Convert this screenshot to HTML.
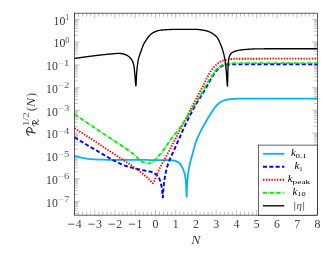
<!DOCTYPE html>
<html><head><meta charset="utf-8"><title>plot</title>
<style>html,body{margin:0;padding:0;background:#fff;font-family:"Liberation Serif",serif;}svg{display:block}</style>
</head><body><svg width="335" height="259" viewBox="0 0 335 259" style="display:block"><rect x="0" y="0" width="335" height="259" fill="#fff"/><defs><filter id="b" x="0" y="0" width="335" height="259" filterUnits="userSpaceOnUse"><feGaussianBlur stdDeviation="0.35"/></filter></defs><g filter="url(#b)"><defs><clipPath id="c"><rect x="74.5" y="13.15" width="242.89999999999998" height="202.0"/></clipPath></defs><path d="M74.50,215.15v-5.35M74.50,13.15v5.35M78.55,215.15v-3.57M78.55,13.15v3.57M82.60,215.15v-3.57M82.60,13.15v3.57M86.64,215.15v-3.57M86.64,13.15v3.57M90.69,215.15v-3.57M90.69,13.15v3.57M94.74,215.15v-5.35M94.74,13.15v5.35M98.79,215.15v-3.57M98.79,13.15v3.57M102.84,215.15v-3.57M102.84,13.15v3.57M106.89,215.15v-3.57M106.89,13.15v3.57M110.94,215.15v-3.57M110.94,13.15v3.57M114.98,215.15v-5.35M114.98,13.15v5.35M119.03,215.15v-3.57M119.03,13.15v3.57M123.08,215.15v-3.57M123.08,13.15v3.57M127.13,215.15v-3.57M127.13,13.15v3.57M131.18,215.15v-3.57M131.18,13.15v3.57M135.22,215.15v-5.35M135.22,13.15v5.35M139.27,215.15v-3.57M139.27,13.15v3.57M143.32,215.15v-3.57M143.32,13.15v3.57M147.37,215.15v-3.57M147.37,13.15v3.57M151.42,215.15v-3.57M151.42,13.15v3.57M155.47,215.15v-5.35M155.47,13.15v5.35M159.51,215.15v-3.57M159.51,13.15v3.57M163.56,215.15v-3.57M163.56,13.15v3.57M167.61,215.15v-3.57M167.61,13.15v3.57M171.66,215.15v-3.57M171.66,13.15v3.57M175.71,215.15v-5.35M175.71,13.15v5.35M179.76,215.15v-3.57M179.76,13.15v3.57M183.81,215.15v-3.57M183.81,13.15v3.57M187.85,215.15v-3.57M187.85,13.15v3.57M191.90,215.15v-3.57M191.90,13.15v3.57M195.95,215.15v-5.35M195.95,13.15v5.35M200.00,215.15v-3.57M200.00,13.15v3.57M204.05,215.15v-3.57M204.05,13.15v3.57M208.09,215.15v-3.57M208.09,13.15v3.57M212.14,215.15v-3.57M212.14,13.15v3.57M216.19,215.15v-5.35M216.19,13.15v5.35M220.24,215.15v-3.57M220.24,13.15v3.57M224.29,215.15v-3.57M224.29,13.15v3.57M228.34,215.15v-3.57M228.34,13.15v3.57M232.38,215.15v-3.57M232.38,13.15v3.57M236.43,215.15v-5.35M236.43,13.15v5.35M240.48,215.15v-3.57M240.48,13.15v3.57M244.53,215.15v-3.57M244.53,13.15v3.57M248.58,215.15v-3.57M248.58,13.15v3.57M252.63,215.15v-3.57M252.63,13.15v3.57M256.67,215.15v-5.35M256.67,13.15v5.35M260.72,215.15v-3.57M260.72,13.15v3.57M264.77,215.15v-3.57M264.77,13.15v3.57M268.82,215.15v-3.57M268.82,13.15v3.57M272.87,215.15v-3.57M272.87,13.15v3.57M276.92,215.15v-5.35M276.92,13.15v5.35M280.97,215.15v-3.57M280.97,13.15v3.57M285.01,215.15v-3.57M285.01,13.15v3.57M289.06,215.15v-3.57M289.06,13.15v3.57M293.11,215.15v-3.57M293.11,13.15v3.57M297.16,215.15v-5.35M297.16,13.15v5.35M301.21,215.15v-3.57M301.21,13.15v3.57M305.25,215.15v-3.57M305.25,13.15v3.57M309.30,215.15v-3.57M309.30,13.15v3.57M313.35,215.15v-3.57M313.35,13.15v3.57M317.40,215.15v-5.35M317.40,13.15v5.35M74.5,213.30h3.57M317.4,213.30h-3.57M74.5,210.45h3.57M317.4,210.45h-3.57M74.5,208.25h3.57M317.4,208.25h-3.57M74.5,206.45h3.57M317.4,206.45h-3.57M74.5,204.92h3.57M317.4,204.92h-3.57M74.5,203.60h3.57M317.4,203.60h-3.57M74.5,202.44h3.57M317.4,202.44h-3.57M74.5,201.40h5.35M317.4,201.40h-5.35M74.5,194.55h3.57M317.4,194.55h-3.57M74.5,190.55h3.57M317.4,190.55h-3.57M74.5,187.70h3.57M317.4,187.70h-3.57M74.5,185.50h3.57M317.4,185.50h-3.57M74.5,183.70h3.57M317.4,183.70h-3.57M74.5,182.17h3.57M317.4,182.17h-3.57M74.5,180.85h3.57M317.4,180.85h-3.57M74.5,179.69h3.57M317.4,179.69h-3.57M74.5,178.65h5.35M317.4,178.65h-5.35M74.5,171.80h3.57M317.4,171.80h-3.57M74.5,167.80h3.57M317.4,167.80h-3.57M74.5,164.95h3.57M317.4,164.95h-3.57M74.5,162.75h3.57M317.4,162.75h-3.57M74.5,160.95h3.57M317.4,160.95h-3.57M74.5,159.42h3.57M317.4,159.42h-3.57M74.5,158.10h3.57M317.4,158.10h-3.57M74.5,156.94h3.57M317.4,156.94h-3.57M74.5,155.90h5.35M317.4,155.90h-5.35M74.5,149.05h3.57M317.4,149.05h-3.57M74.5,145.05h3.57M317.4,145.05h-3.57M74.5,142.20h3.57M317.4,142.20h-3.57M74.5,140.00h3.57M317.4,140.00h-3.57M74.5,138.20h3.57M317.4,138.20h-3.57M74.5,136.67h3.57M317.4,136.67h-3.57M74.5,135.35h3.57M317.4,135.35h-3.57M74.5,134.19h3.57M317.4,134.19h-3.57M74.5,133.15h5.35M317.4,133.15h-5.35M74.5,126.30h3.57M317.4,126.30h-3.57M74.5,122.30h3.57M317.4,122.30h-3.57M74.5,119.45h3.57M317.4,119.45h-3.57M74.5,117.25h3.57M317.4,117.25h-3.57M74.5,115.45h3.57M317.4,115.45h-3.57M74.5,113.92h3.57M317.4,113.92h-3.57M74.5,112.60h3.57M317.4,112.60h-3.57M74.5,111.44h3.57M317.4,111.44h-3.57M74.5,110.40h5.35M317.4,110.40h-5.35M74.5,103.55h3.57M317.4,103.55h-3.57M74.5,99.55h3.57M317.4,99.55h-3.57M74.5,96.70h3.57M317.4,96.70h-3.57M74.5,94.50h3.57M317.4,94.50h-3.57M74.5,92.70h3.57M317.4,92.70h-3.57M74.5,91.17h3.57M317.4,91.17h-3.57M74.5,89.85h3.57M317.4,89.85h-3.57M74.5,88.69h3.57M317.4,88.69h-3.57M74.5,87.65h5.35M317.4,87.65h-5.35M74.5,80.80h3.57M317.4,80.80h-3.57M74.5,76.80h3.57M317.4,76.80h-3.57M74.5,73.95h3.57M317.4,73.95h-3.57M74.5,71.75h3.57M317.4,71.75h-3.57M74.5,69.95h3.57M317.4,69.95h-3.57M74.5,68.42h3.57M317.4,68.42h-3.57M74.5,67.10h3.57M317.4,67.10h-3.57M74.5,65.94h3.57M317.4,65.94h-3.57M74.5,64.90h5.35M317.4,64.90h-5.35M74.5,58.05h3.57M317.4,58.05h-3.57M74.5,54.05h3.57M317.4,54.05h-3.57M74.5,51.20h3.57M317.4,51.20h-3.57M74.5,49.00h3.57M317.4,49.00h-3.57M74.5,47.20h3.57M317.4,47.20h-3.57M74.5,45.67h3.57M317.4,45.67h-3.57M74.5,44.35h3.57M317.4,44.35h-3.57M74.5,43.19h3.57M317.4,43.19h-3.57M74.5,42.15h5.35M317.4,42.15h-5.35M74.5,35.30h3.57M317.4,35.30h-3.57M74.5,31.30h3.57M317.4,31.30h-3.57M74.5,28.45h3.57M317.4,28.45h-3.57M74.5,26.25h3.57M317.4,26.25h-3.57M74.5,24.45h3.57M317.4,24.45h-3.57M74.5,22.92h3.57M317.4,22.92h-3.57M74.5,21.60h3.57M317.4,21.60h-3.57M74.5,20.44h3.57M317.4,20.44h-3.57M74.5,19.40h5.35M317.4,19.40h-5.35" stroke="#7a7a7a" stroke-width="0.45" fill="none"/><g clip-path="url(#c)" fill="none" stroke-linejoin="round"><path d="M74.50,156.00 L75.14,156.18 L75.78,156.36 L76.43,156.53 L77.07,156.70 L77.72,156.87 L78.36,157.03 L79.01,157.18 L79.66,157.33 L80.31,157.47 L80.96,157.61 L81.61,157.74 L81.90,157.80 L82.26,157.87 L82.92,158.00 L83.57,158.12 L84.23,158.25 L84.88,158.37 L85.54,158.48 L86.20,158.59 L86.86,158.69 L87.51,158.79 L88.17,158.87 L88.83,158.95 L89.40,159.00 L89.49,159.01 L90.16,159.06 L90.82,159.12 L91.48,159.17 L92.14,159.21 L92.81,159.26 L93.47,159.30 L94.14,159.34 L94.80,159.38 L95.47,159.42 L96.13,159.45 L96.80,159.48 L97.46,159.51 L98.13,159.54 L98.80,159.56 L99.46,159.59 L99.90,159.60 L100.13,159.61 L100.79,159.63 L101.46,159.65 L102.12,159.67 L102.79,159.68 L103.45,159.70 L104.12,159.72 L104.78,159.74 L105.45,159.75 L106.11,159.77 L106.78,159.78 L107.44,159.80 L108.11,159.81 L108.77,159.83 L109.44,159.84 L110.11,159.85 L110.77,159.86 L111.44,159.87 L112.10,159.88 L112.77,159.88 L113.43,159.89 L114.10,159.90 L114.76,159.90 L114.80,159.90 L115.43,159.90 L116.09,159.91 L116.76,159.91 L117.43,159.91 L118.09,159.92 L118.76,159.92 L119.42,159.92 L120.09,159.92 L120.75,159.93 L121.42,159.93 L122.08,159.93 L122.75,159.93 L123.41,159.94 L124.08,159.94 L124.75,159.94 L125.41,159.94 L126.08,159.94 L126.74,159.95 L127.41,159.95 L128.07,159.95 L128.74,159.95 L129.40,159.95 L130.07,159.95 L130.73,159.95 L131.40,159.96 L132.07,159.96 L132.73,159.96 L133.40,159.96 L134.06,159.96 L134.73,159.96 L135.39,159.96 L136.06,159.96 L136.72,159.97 L137.39,159.97 L138.06,159.97 L138.72,159.97 L139.39,159.97 L140.05,159.97 L140.72,159.97 L141.38,159.97 L142.05,159.98 L142.71,159.98 L143.38,159.98 L144.04,159.98 L144.71,159.98 L145.38,159.98 L146.04,159.99 L146.71,159.99 L147.37,159.99 L148.04,159.99 L148.70,160.00 L149.37,160.00 L150.00,160.00 L150.03,160.00 L150.70,160.00 L151.37,160.01 L152.03,160.01 L152.70,160.01 L153.36,160.01 L154.03,160.01 L154.69,160.02 L155.36,160.02 L156.03,160.02 L156.69,160.02 L157.36,160.02 L158.02,160.03 L158.69,160.03 L159.36,160.03 L160.02,160.04 L160.69,160.04 L161.35,160.04 L162.02,160.05 L162.68,160.05 L163.35,160.06 L164.02,160.06 L164.68,160.07 L165.35,160.07 L166.01,160.08 L166.67,160.08 L167.34,160.09 L168.00,160.10 L168.00,160.10 L168.67,160.11 L169.34,160.14 L170.01,160.18 L170.68,160.23 L171.35,160.29 L172.02,160.36 L172.68,160.44 L173.34,160.52 L173.99,160.62 L174.50,160.70 L174.62,160.72 L175.27,160.88 L175.91,161.09 L176.55,161.36 L177.17,161.66 L177.76,161.99 L178.30,162.33 L178.40,162.40 L178.80,162.70 L179.28,163.13 L179.75,163.62 L180.19,164.14 L180.61,164.70 L181.00,165.26 L181.37,165.83 L181.60,166.20 L181.71,166.39 L182.03,166.96 L182.34,167.55 L182.63,168.15 L182.91,168.76 L183.17,169.39 L183.42,170.01 L183.64,170.64 L183.80,171.10 L183.85,171.27 L184.06,171.90 L184.26,172.53 L184.45,173.17 L184.63,173.82 L184.80,174.47 L184.95,175.12 L185.09,175.77 L185.21,176.42 L185.30,177.00 L185.31,177.08 L185.40,177.73 L185.48,178.39 L185.55,179.05 L185.62,179.71 L185.68,180.37 L185.74,181.04 L185.80,181.70 L185.85,182.37 L185.90,183.03 L185.95,183.70 L186.00,184.36 L186.04,185.03 L186.08,185.70 L186.10,186.00 L186.12,186.37 L186.16,187.11 L186.20,187.91 L186.23,188.75 L186.27,189.62 L186.30,190.51 L186.33,191.39 L186.36,192.26 L186.39,193.09 L186.42,193.88 L186.44,194.60 L186.47,195.25 L186.50,195.80 L186.53,196.25 L186.55,196.57 L186.58,196.76 L186.60,196.80 L186.61,196.79 L186.63,196.66 L186.66,196.39 L186.68,195.98 L186.71,195.46 L186.73,194.83 L186.75,194.13 L186.77,193.35 L186.79,192.52 L186.82,191.66 L186.84,190.78 L186.87,189.90 L186.89,189.02 L186.92,188.18 L186.95,187.38 L186.98,186.64 L187.00,186.30 L187.02,185.96 L187.06,185.30 L187.10,184.64 L187.14,183.97 L187.19,183.31 L187.24,182.64 L187.30,181.98 L187.35,181.32 L187.41,180.65 L187.47,179.99 L187.53,179.33 L187.60,178.66 L187.67,178.00 L187.73,177.34 L187.80,176.68 L187.88,176.02 L187.90,175.80 L187.95,175.36 L188.03,174.70 L188.11,174.04 L188.20,173.38 L188.29,172.72 L188.39,172.06 L188.49,171.40 L188.59,170.74 L188.70,170.08 L188.81,169.43 L188.92,168.77 L189.03,168.12 L189.15,167.46 L189.20,167.20 L189.27,166.81 L189.40,166.16 L189.54,165.51 L189.68,164.86 L189.82,164.21 L189.98,163.56 L190.13,162.91 L190.29,162.26 L190.45,161.62 L190.62,160.97 L190.78,160.33 L190.95,159.68 L191.11,159.04 L191.20,158.70 L191.28,158.39 L191.45,157.75 L191.63,157.11 L191.81,156.47 L192.00,155.83 L192.18,155.19 L192.36,154.55 L192.40,154.40 L192.54,153.91 L192.71,153.26 L192.88,152.62 L193.06,151.98 L193.23,151.34 L193.41,150.69 L193.59,150.05 L193.60,150.00 L193.76,149.41 L193.94,148.77 L194.11,148.12 L194.28,147.48 L194.46,146.84 L194.63,146.19 L194.81,145.55 L194.99,144.91 L195.18,144.27 L195.37,143.63 L195.57,143.00 L195.77,142.37 L195.90,142.00 L195.99,141.74 L196.22,141.12 L196.46,140.50 L196.70,139.88 L196.96,139.27 L197.22,138.66 L197.49,138.04 L197.76,137.43 L198.03,136.83 L198.30,136.22 L198.40,136.00 L198.57,135.61 L198.85,135.00 L199.12,134.40 L199.40,133.79 L199.68,133.19 L199.97,132.59 L200.26,131.99 L200.55,131.39 L200.85,130.79 L201.15,130.20 L201.20,130.10 L201.46,129.61 L201.77,129.03 L202.10,128.45 L202.42,127.87 L202.76,127.29 L203.09,126.72 L203.43,126.15 L203.77,125.57 L204.11,125.00 L204.45,124.43 L204.79,123.85 L205.12,123.27 L205.45,122.69 L205.50,122.60 L205.77,122.11 L206.09,121.53 L206.40,120.94 L206.72,120.35 L207.04,119.77 L207.30,119.30 L207.36,119.19 L207.70,118.62 L208.04,118.04 L208.38,117.47 L208.73,116.90 L209.07,116.34 L209.42,115.77 L209.77,115.20 L209.90,115.00 L210.12,114.64 L210.47,114.07 L210.82,113.51 L211.18,112.94 L211.54,112.39 L211.60,112.30 L211.91,111.83 L212.27,111.27 L212.64,110.71 L213.01,110.14 L213.38,109.58 L213.75,109.03 L214.13,108.48 L214.52,107.94 L214.92,107.40 L215.33,106.89 L215.75,106.38 L216.00,106.10 L216.19,105.90 L216.64,105.41 L217.11,104.93 L217.59,104.46 L218.09,104.01 L218.60,103.56 L219.12,103.14 L219.65,102.74 L220.19,102.37 L220.30,102.30 L220.74,102.02 L221.31,101.68 L221.90,101.34 L222.50,101.03 L223.11,100.74 L223.73,100.49 L224.35,100.27 L224.60,100.20 L224.98,100.10 L225.62,99.94 L226.27,99.79 L226.92,99.65 L227.58,99.52 L228.25,99.42 L228.91,99.32 L229.57,99.24 L230.00,99.20 L230.23,99.18 L230.89,99.12 L231.56,99.07 L232.22,99.02 L232.88,98.97 L233.55,98.93 L234.21,98.89 L234.88,98.85 L235.54,98.82 L236.21,98.78 L236.88,98.76 L237.54,98.74 L238.21,98.72 L238.87,98.70 L239.00,98.70 L239.54,98.69 L240.20,98.68 L240.87,98.67 L241.53,98.66 L242.20,98.65 L242.86,98.64 L243.53,98.63 L244.19,98.62 L244.86,98.61 L245.53,98.60 L246.19,98.59 L246.86,98.58 L247.52,98.57 L248.19,98.57 L248.85,98.56 L249.52,98.55 L250.18,98.55 L250.85,98.54 L251.52,98.53 L252.18,98.53 L252.85,98.52 L253.51,98.52 L254.18,98.52 L254.84,98.51 L255.51,98.51 L256.17,98.51 L256.84,98.50 L257.51,98.50 L258.17,98.50 L258.84,98.50 L259.50,98.50 L260.00,98.50 L260.17,98.50 L260.83,98.50 L261.50,98.50 L262.16,98.50 L262.83,98.50 L263.50,98.50 L264.16,98.50 L264.83,98.50 L265.49,98.50 L266.16,98.50 L266.82,98.50 L267.49,98.50 L268.15,98.50 L268.82,98.50 L269.48,98.50 L270.15,98.50 L270.82,98.50 L271.48,98.50 L272.15,98.50 L272.81,98.50 L273.48,98.50 L274.14,98.50 L274.81,98.50 L275.47,98.50 L276.14,98.50 L276.80,98.50 L277.47,98.50 L278.14,98.50 L278.80,98.50 L279.47,98.50 L280.13,98.50 L280.80,98.50 L281.46,98.50 L282.13,98.50 L282.79,98.50 L283.46,98.50 L284.13,98.50 L284.79,98.50 L285.46,98.50 L286.12,98.50 L286.79,98.50 L287.45,98.50 L288.12,98.50 L288.78,98.50 L289.45,98.50 L290.11,98.50 L290.78,98.50 L291.45,98.50 L292.11,98.50 L292.78,98.50 L293.44,98.50 L294.11,98.50 L294.77,98.50 L295.44,98.50 L296.10,98.50 L296.77,98.50 L297.43,98.50 L298.10,98.50 L298.77,98.50 L299.43,98.50 L300.10,98.50 L300.76,98.50 L301.43,98.50 L302.09,98.50 L302.76,98.50 L303.42,98.50 L304.09,98.50 L304.76,98.50 L305.42,98.50 L306.09,98.50 L306.75,98.50 L307.42,98.50 L308.08,98.50 L308.75,98.50 L309.41,98.50 L310.08,98.50 L310.74,98.50 L311.41,98.50 L312.08,98.50 L312.74,98.50 L313.41,98.50 L314.07,98.50 L314.74,98.50 L315.40,98.50 L316.07,98.50 L316.73,98.50 L317.40,98.50" stroke="#00b4f0" stroke-width="1.75"/><path d="M74.50,137.20 L75.06,137.56 L75.62,137.92 L76.18,138.28 L76.74,138.64 L77.31,139.00 L77.87,139.36 L78.43,139.71 L79.00,140.07 L79.56,140.42 L80.13,140.77 L80.69,141.13 L81.26,141.48 L81.83,141.83 L82.39,142.18 L82.96,142.53 L83.53,142.88 L84.10,143.22 L84.67,143.57 L85.24,143.92 L85.81,144.26 L86.38,144.61 L86.95,144.95 L87.52,145.29 L88.09,145.64 L88.66,145.98 L88.70,146.00 L89.24,146.32 L89.81,146.66 L90.38,146.99 L90.96,147.33 L91.54,147.66 L92.12,147.99 L92.69,148.33 L93.27,148.66 L93.85,148.99 L94.43,149.32 L95.01,149.65 L95.58,149.99 L96.16,150.32 L96.30,150.40 L96.74,150.65 L97.31,150.99 L97.89,151.33 L98.46,151.67 L99.03,152.01 L99.61,152.35 L100.18,152.69 L100.75,153.03 L101.33,153.37 L101.90,153.72 L102.47,154.06 L103.04,154.40 L103.62,154.74 L104.19,155.08 L104.77,155.42 L105.34,155.75 L105.92,156.09 L106.49,156.42 L107.07,156.76 L107.65,157.09 L108.23,157.42 L108.81,157.74 L109.39,158.07 L109.97,158.39 L110.00,158.40 L110.56,158.70 L111.14,159.02 L111.73,159.34 L112.32,159.66 L112.90,159.98 L113.49,160.29 L114.08,160.60 L114.67,160.91 L115.27,161.22 L115.86,161.52 L116.45,161.83 L117.05,162.12 L117.65,162.42 L118.25,162.71 L118.85,162.99 L119.30,163.20 L119.45,163.27 L120.06,163.55 L120.67,163.82 L121.28,164.10 L121.89,164.37 L122.50,164.63 L123.12,164.88 L123.74,165.13 L124.36,165.37 L124.98,165.59 L125.00,165.60 L125.61,165.81 L126.24,166.02 L126.88,166.22 L127.51,166.42 L128.15,166.61 L128.79,166.80 L129.43,166.99 L130.08,167.17 L130.72,167.34 L131.36,167.52 L132.01,167.69 L132.65,167.86 L133.20,168.00 L133.30,168.03 L133.94,168.19 L134.59,168.35 L135.24,168.51 L135.89,168.66 L136.54,168.82 L137.19,168.97 L137.84,169.11 L138.49,169.26 L139.14,169.41 L139.79,169.55 L140.00,169.60 L140.44,169.70 L141.09,169.84 L141.74,169.98 L142.39,170.12 L143.04,170.25 L143.70,170.39 L144.35,170.53 L144.70,170.60 L145.00,170.66 L145.66,170.79 L146.32,170.90 L146.99,171.02 L147.65,171.13 L148.31,171.24 L148.97,171.36 L149.63,171.50 L150.27,171.64 L150.91,171.80 L151.54,171.98 L151.60,172.00 L152.15,172.21 L152.75,172.50 L153.34,172.83 L153.93,173.16 L154.00,173.20 L154.52,173.47 L155.12,173.79 L155.70,174.12 L156.25,174.48 L156.40,174.60 L156.75,174.90 L157.23,175.38 L157.67,175.90 L158.06,176.43 L158.10,176.50 L158.40,176.99 L158.73,177.56 L159.05,178.15 L159.34,178.76 L159.61,179.38 L159.86,180.01 L160.09,180.64 L160.29,181.27 L160.30,181.30 L160.48,181.90 L160.65,182.54 L160.82,183.18 L160.98,183.83 L161.13,184.48 L161.27,185.14 L161.40,185.79 L161.53,186.45 L161.65,187.11 L161.76,187.78 L161.86,188.44 L161.96,189.10 L162.00,189.40 L162.05,189.77 L162.13,190.53 L162.21,191.35 L162.28,192.22 L162.35,193.10 L162.41,193.98 L162.47,194.81 L162.53,195.58 L162.59,196.25 L162.65,196.81 L162.71,197.22 L162.76,197.45 L162.80,197.50 L162.82,197.49 L162.87,197.36 L162.93,197.08 L162.97,196.67 L163.02,196.14 L163.07,195.51 L163.11,194.80 L163.16,194.03 L163.20,193.20 L163.25,192.34 L163.30,191.46 L163.35,190.57 L163.40,189.70 L163.45,188.86 L163.51,188.06 L163.57,187.32 L163.60,187.00 L163.63,186.65 L163.70,185.99 L163.77,185.33 L163.85,184.66 L163.93,184.00 L164.01,183.34 L164.09,182.68 L164.18,182.01 L164.27,181.35 L164.37,180.69 L164.46,180.03 L164.56,179.37 L164.66,178.71 L164.77,178.05 L164.88,177.40 L164.99,176.74 L165.10,176.08 L165.20,175.50 L165.21,175.43 L165.33,174.78 L165.46,174.12 L165.59,173.47 L165.73,172.82 L165.87,172.16 L166.02,171.51 L166.17,170.86 L166.33,170.21 L166.49,169.56 L166.65,168.92 L166.82,168.27 L167.00,167.63 L167.18,166.99 L167.36,166.35 L167.40,166.20 L167.54,165.71 L167.74,165.08 L167.94,164.44 L168.16,163.81 L168.38,163.18 L168.60,162.55 L168.83,161.93 L169.07,161.30 L169.31,160.68 L169.55,160.05 L169.80,159.43 L170.05,158.82 L170.30,158.20 L170.30,158.20 L170.56,157.59 L170.82,156.98 L171.09,156.37 L171.37,155.76 L171.65,155.16 L171.93,154.55 L172.22,153.95 L172.51,153.35 L172.80,152.75 L173.09,152.15 L173.38,151.55 L173.66,150.94 L173.94,150.34 L174.10,150.00 L174.22,149.73 L174.50,149.13 L174.77,148.52 L175.04,147.91 L175.32,147.30 L175.59,146.69 L175.86,146.09 L176.13,145.48 L176.40,144.87 L176.67,144.26 L176.94,143.65 L177.21,143.04 L177.48,142.43 L177.75,141.82 L178.03,141.21 L178.30,140.60 L178.30,140.60 L178.57,140.00 L178.84,139.39 L179.11,138.78 L179.38,138.17 L179.65,137.56 L179.92,136.95 L180.19,136.34 L180.46,135.73 L180.73,135.12 L181.00,134.51 L181.27,133.90 L181.54,133.29 L181.81,132.68 L182.08,132.07 L182.35,131.46 L182.62,130.85 L182.89,130.25 L183.16,129.64 L183.43,129.03 L183.71,128.42 L183.98,127.81 L184.26,127.21 L184.53,126.60 L184.81,125.99 L185.09,125.39 L185.36,124.78 L185.64,124.18 L185.93,123.57 L186.10,123.20 L186.21,122.97 L186.49,122.37 L186.78,121.76 L187.07,121.17 L187.37,120.57 L187.40,120.50 L187.66,119.97 L187.96,119.38 L188.26,118.78 L188.56,118.19 L188.87,117.59 L189.17,117.00 L189.47,116.40 L189.78,115.81 L190.08,115.22 L190.39,114.63 L190.70,114.04 L191.01,113.45 L191.32,112.86 L191.63,112.27 L191.95,111.68 L192.26,111.09 L192.58,110.50 L192.89,109.91 L193.21,109.33 L193.53,108.74 L193.85,108.16 L194.17,107.58 L194.50,106.99 L194.82,106.41 L195.15,105.83 L195.47,105.25 L195.80,104.67 L195.90,104.50 L196.13,104.09 L196.47,103.52 L196.80,102.94 L197.15,102.37 L197.49,101.80 L197.84,101.23 L198.18,100.67 L198.54,100.10 L198.89,99.53 L199.24,98.97 L199.60,98.40 L199.95,97.84 L200.31,97.27 L200.66,96.71 L201.02,96.15 L201.38,95.58 L201.73,95.02 L202.09,94.45 L202.44,93.89 L202.79,93.32 L203.14,92.75 L203.49,92.19 L203.84,91.62 L204.18,91.05 L204.52,90.47 L204.80,90.00 L204.86,89.90 L205.19,89.32 L205.52,88.74 L205.85,88.16 L206.17,87.58 L206.50,87.00 L206.82,86.41 L207.14,85.83 L207.45,85.24 L207.77,84.65 L208.09,84.07 L208.41,83.48 L208.73,82.90 L209.06,82.32 L209.38,81.73 L209.71,81.15 L210.04,80.58 L210.38,80.00 L210.72,79.43 L210.80,79.30 L211.06,78.86 L211.41,78.29 L211.75,77.71 L212.09,77.13 L212.44,76.56 L212.79,75.98 L213.14,75.41 L213.50,74.85 L213.86,74.28 L214.23,73.73 L214.61,73.18 L214.99,72.65 L215.39,72.12 L215.80,71.60 L215.80,71.60 L216.22,71.09 L216.64,70.57 L217.08,70.04 L217.54,69.52 L218.00,69.02 L218.47,68.53 L218.96,68.07 L219.47,67.64 L219.98,67.24 L220.50,66.90 L220.51,66.89 L221.07,66.57 L221.65,66.26 L222.26,65.96 L222.89,65.69 L223.53,65.45 L224.17,65.23 L224.82,65.06 L225.10,65.00 L225.46,64.93 L226.10,64.81 L226.76,64.69 L227.42,64.58 L228.09,64.49 L228.76,64.41 L229.42,64.35 L230.09,64.31 L230.50,64.30 L230.76,64.29 L231.42,64.28 L232.08,64.27 L232.75,64.26 L233.42,64.25 L234.08,64.24 L234.75,64.23 L235.42,64.22 L236.08,64.22 L236.75,64.21 L237.42,64.21 L238.09,64.20 L238.75,64.20 L239.42,64.20 L240.00,64.20 L240.09,64.20 L240.75,64.20 L241.42,64.20 L242.09,64.20 L242.75,64.20 L243.42,64.20 L244.09,64.20 L244.75,64.20 L245.42,64.20 L246.09,64.20 L246.75,64.20 L247.42,64.20 L248.08,64.20 L248.75,64.20 L249.42,64.20 L250.08,64.20 L250.75,64.20 L251.42,64.20 L252.08,64.20 L252.75,64.20 L253.42,64.20 L254.08,64.20 L254.75,64.20 L255.42,64.20 L256.08,64.20 L256.75,64.20 L257.42,64.20 L258.08,64.20 L258.75,64.20 L259.41,64.20 L260.08,64.20 L260.75,64.20 L261.41,64.20 L262.08,64.20 L262.75,64.20 L263.41,64.20 L264.08,64.20 L264.75,64.20 L265.41,64.20 L266.08,64.20 L266.75,64.20 L267.41,64.20 L268.08,64.20 L268.75,64.20 L269.41,64.20 L270.08,64.20 L270.74,64.20 L271.41,64.20 L272.08,64.20 L272.74,64.20 L273.41,64.20 L274.08,64.20 L274.74,64.20 L275.41,64.20 L276.08,64.20 L276.74,64.20 L277.41,64.20 L278.08,64.20 L278.74,64.20 L279.41,64.20 L280.08,64.20 L280.74,64.20 L281.41,64.20 L282.08,64.20 L282.74,64.20 L283.41,64.20 L284.07,64.20 L284.74,64.20 L285.41,64.20 L286.07,64.20 L286.74,64.20 L287.41,64.20 L288.07,64.20 L288.74,64.20 L289.41,64.20 L290.07,64.20 L290.74,64.20 L291.41,64.20 L292.07,64.20 L292.74,64.20 L293.41,64.20 L294.07,64.20 L294.74,64.20 L295.41,64.20 L296.07,64.20 L296.74,64.20 L297.40,64.20 L298.07,64.20 L298.74,64.20 L299.40,64.20 L300.07,64.20 L300.74,64.20 L301.40,64.20 L302.07,64.20 L302.74,64.20 L303.40,64.20 L304.07,64.20 L304.74,64.20 L305.40,64.20 L306.07,64.20 L306.74,64.20 L307.40,64.20 L308.07,64.20 L308.74,64.20 L309.40,64.20 L310.07,64.20 L310.73,64.20 L311.40,64.20 L312.07,64.20 L312.73,64.20 L313.40,64.20 L314.07,64.20 L314.73,64.20 L315.40,64.20 L316.07,64.20 L316.73,64.20 L317.40,64.20" stroke="#0000ff" stroke-width="1.9" stroke-dasharray="4.0 2.33"/><path d="M74.50,128.30 L75.07,128.65 L75.63,129.00 L76.20,129.36 L76.76,129.71 L77.33,130.06 L77.89,130.42 L78.45,130.77 L79.02,131.13 L79.58,131.48 L80.14,131.84 L80.71,132.19 L81.27,132.55 L81.83,132.90 L82.40,133.26 L82.96,133.62 L83.52,133.98 L84.08,134.33 L84.64,134.69 L85.20,135.05 L85.77,135.41 L86.33,135.77 L86.89,136.13 L87.45,136.49 L88.01,136.85 L88.57,137.21 L89.13,137.57 L89.69,137.93 L90.25,138.29 L90.81,138.65 L91.37,139.01 L91.93,139.37 L92.48,139.74 L93.04,140.10 L93.20,140.20 L93.60,140.46 L94.16,140.82 L94.72,141.19 L95.27,141.55 L95.83,141.92 L96.39,142.29 L96.94,142.65 L97.50,143.02 L98.05,143.39 L98.61,143.76 L99.16,144.13 L99.72,144.50 L100.27,144.87 L100.82,145.23 L101.38,145.60 L101.93,145.97 L102.49,146.34 L103.04,146.71 L103.60,147.08 L104.15,147.45 L104.71,147.81 L105.26,148.18 L105.82,148.55 L106.20,148.80 L106.38,148.92 L106.93,149.28 L107.49,149.65 L108.05,150.01 L108.60,150.38 L109.16,150.74 L109.72,151.10 L110.28,151.47 L110.83,151.83 L111.39,152.19 L111.95,152.56 L112.51,152.92 L113.07,153.28 L113.63,153.65 L114.18,154.01 L114.74,154.37 L115.30,154.74 L115.86,155.10 L116.42,155.46 L116.98,155.83 L117.53,156.19 L118.09,156.56 L118.65,156.92 L119.20,157.29 L119.76,157.65 L120.32,158.02 L120.87,158.39 L121.43,158.75 L121.98,159.12 L122.40,159.40 L122.54,159.49 L123.09,159.86 L123.65,160.23 L124.20,160.60 L124.76,160.96 L125.31,161.33 L125.87,161.70 L126.43,162.07 L126.98,162.43 L127.54,162.80 L128.09,163.17 L128.65,163.54 L129.20,163.91 L129.75,164.28 L130.31,164.65 L130.86,165.03 L131.41,165.40 L131.96,165.78 L132.51,166.16 L133.05,166.54 L133.60,166.92 L134.14,167.30 L134.68,167.69 L135.22,168.07 L135.40,168.20 L135.76,168.46 L136.30,168.86 L136.84,169.25 L137.37,169.64 L137.91,170.04 L138.44,170.44 L138.97,170.84 L139.51,171.25 L140.03,171.65 L140.56,172.06 L141.09,172.47 L141.61,172.88 L142.14,173.29 L142.66,173.71 L143.17,174.13 L143.69,174.55 L144.00,174.80 L144.20,174.97 L144.72,175.39 L145.23,175.82 L145.74,176.25 L146.25,176.68 L146.75,177.11 L147.26,177.55 L147.76,177.99 L148.25,178.44 L148.74,178.89 L149.23,179.34 L149.50,179.60 L149.71,179.81 L150.20,180.37 L150.70,181.00 L151.19,181.63 L151.67,182.22 L152.13,182.71 L152.57,183.05 L152.96,183.20 L153.00,183.20 L153.32,183.03 L153.65,182.53 L153.96,181.83 L154.26,181.05 L154.54,180.33 L154.60,180.20 L154.81,179.72 L155.07,179.11 L155.31,178.49 L155.55,177.86 L155.78,177.24 L156.01,176.61 L156.25,175.99 L156.49,175.36 L156.74,174.75 L156.80,174.60 L157.00,174.14 L157.27,173.53 L157.54,172.92 L157.81,172.31 L158.09,171.71 L158.38,171.10 L158.66,170.50 L158.95,169.90 L159.24,169.30 L159.53,168.70 L159.83,168.11 L160.13,167.51 L160.43,166.91 L160.73,166.32 L161.03,165.73 L161.20,165.40 L161.34,165.14 L161.65,164.55 L161.96,163.96 L162.28,163.37 L162.60,162.79 L162.92,162.21 L163.25,161.63 L163.57,161.05 L163.90,160.47 L164.23,159.89 L164.56,159.31 L164.88,158.72 L165.20,158.14 L165.50,157.60 L165.52,157.56 L165.84,156.97 L166.16,156.39 L166.48,155.80 L166.79,155.21 L167.11,154.63 L167.42,154.04 L167.74,153.45 L168.05,152.87 L168.37,152.28 L168.68,151.69 L168.99,151.10 L169.30,150.52 L169.62,149.93 L169.93,149.34 L170.00,149.20 L170.24,148.75 L170.55,148.16 L170.86,147.57 L171.17,146.98 L171.48,146.39 L171.78,145.80 L172.09,145.21 L172.40,144.62 L172.71,144.03 L173.01,143.44 L173.32,142.85 L173.63,142.25 L173.93,141.66 L174.24,141.07 L174.54,140.48 L174.85,139.89 L175.15,139.30 L175.46,138.70 L175.76,138.11 L176.07,137.52 L176.37,136.93 L176.68,136.33 L176.98,135.74 L177.29,135.15 L177.59,134.56 L177.90,133.97 L178.20,133.37 L178.50,132.78 L178.81,132.19 L179.11,131.60 L179.42,131.00 L179.72,130.41 L180.03,129.82 L180.33,129.23 L180.64,128.64 L180.94,128.04 L181.25,127.45 L181.55,126.86 L181.86,126.27 L182.00,126.00 L182.17,125.68 L182.47,125.09 L182.78,124.49 L183.09,123.90 L183.39,123.31 L183.70,122.72 L184.00,122.13 L184.31,121.54 L184.62,120.94 L184.92,120.35 L185.23,119.76 L185.53,119.17 L185.84,118.58 L186.14,117.99 L186.45,117.39 L186.76,116.80 L187.06,116.21 L187.37,115.62 L187.68,115.03 L187.98,114.44 L188.29,113.85 L188.60,113.26 L188.90,112.66 L189.21,112.07 L189.52,111.48 L189.83,110.89 L190.13,110.30 L190.44,109.71 L190.75,109.12 L191.06,108.53 L191.37,107.94 L191.60,107.50 L191.68,107.35 L191.99,106.76 L192.30,106.17 L192.61,105.58 L192.92,104.99 L193.23,104.41 L193.54,103.82 L193.85,103.23 L194.16,102.64 L194.47,102.05 L194.79,101.46 L195.10,100.87 L195.41,100.28 L195.72,99.70 L196.03,99.11 L196.35,98.52 L196.66,97.93 L196.97,97.34 L197.29,96.76 L197.60,96.17 L197.91,95.58 L198.23,94.99 L198.54,94.41 L198.85,93.82 L199.17,93.23 L199.48,92.64 L199.80,92.06 L200.11,91.47 L200.43,90.88 L200.74,90.30 L200.90,90.00 L201.06,89.71 L201.37,89.12 L201.70,88.54 L202.02,87.96 L202.34,87.37 L202.66,86.79 L202.97,86.20 L203.28,85.61 L203.59,85.02 L203.60,85.00 L203.88,84.43 L204.17,83.83 L204.45,83.22 L204.73,82.62 L205.01,82.01 L205.29,81.40 L205.57,80.80 L205.85,80.20 L206.15,79.60 L206.30,79.30 L206.45,79.01 L206.75,78.41 L207.06,77.82 L207.36,77.22 L207.67,76.62 L207.97,76.03 L208.29,75.43 L208.60,74.84 L208.92,74.25 L209.25,73.67 L209.58,73.09 L209.92,72.51 L210.27,71.95 L210.62,71.39 L210.98,70.84 L211.36,70.30 L211.50,70.10 L211.74,69.77 L212.14,69.24 L212.56,68.72 L212.98,68.20 L213.42,67.70 L213.87,67.19 L214.33,66.70 L214.80,66.22 L215.28,65.75 L215.76,65.30 L216.20,64.90 L216.25,64.86 L216.75,64.42 L217.25,63.97 L217.77,63.53 L218.30,63.10 L218.84,62.69 L219.39,62.30 L219.95,61.95 L220.52,61.63 L221.00,61.40 L221.11,61.35 L221.71,61.10 L222.33,60.87 L222.96,60.65 L223.61,60.45 L224.26,60.27 L224.91,60.10 L225.57,59.96 L225.90,59.90 L226.22,59.84 L226.87,59.73 L227.52,59.61 L228.18,59.50 L228.84,59.39 L229.50,59.29 L230.16,59.19 L230.83,59.10 L231.49,59.02 L232.16,58.95 L232.82,58.90 L233.49,58.85 L234.15,58.82 L234.82,58.80 L235.00,58.80 L235.48,58.80 L236.14,58.79 L236.81,58.79 L237.47,58.78 L238.13,58.78 L238.79,58.78 L239.46,58.77 L240.12,58.77 L240.78,58.77 L241.45,58.76 L242.11,58.76 L242.77,58.75 L243.44,58.75 L244.10,58.75 L244.76,58.74 L245.43,58.74 L246.09,58.74 L246.75,58.73 L247.42,58.73 L248.08,58.73 L248.75,58.72 L249.41,58.72 L250.07,58.72 L250.74,58.71 L251.40,58.71 L252.06,58.71 L252.73,58.71 L253.39,58.70 L254.06,58.70 L254.72,58.70 L255.38,58.70 L256.05,58.69 L256.71,58.69 L257.38,58.69 L258.04,58.69 L258.70,58.68 L259.37,58.68 L260.03,58.68 L260.70,58.68 L261.36,58.67 L262.03,58.67 L262.69,58.67 L263.36,58.67 L264.02,58.66 L264.69,58.66 L265.35,58.66 L266.02,58.66 L266.68,58.66 L267.34,58.66 L268.01,58.65 L268.67,58.65 L269.34,58.65 L270.01,58.65 L270.67,58.65 L271.34,58.64 L272.00,58.64 L272.67,58.64 L273.33,58.64 L274.00,58.64 L274.66,58.64 L275.33,58.64 L275.99,58.63 L276.66,58.63 L277.33,58.63 L277.99,58.63 L278.66,58.63 L279.32,58.63 L279.99,58.63 L280.66,58.63 L281.32,58.62 L281.99,58.62 L282.65,58.62 L283.32,58.62 L283.99,58.62 L284.65,58.62 L285.32,58.62 L285.99,58.62 L286.65,58.62 L287.32,58.62 L287.99,58.61 L288.65,58.61 L289.32,58.61 L289.99,58.61 L290.65,58.61 L291.32,58.61 L291.99,58.61 L292.66,58.61 L293.32,58.61 L293.99,58.61 L294.66,58.61 L295.33,58.61 L295.99,58.61 L296.66,58.61 L297.33,58.61 L298.00,58.61 L298.66,58.61 L299.33,58.60 L300.00,58.60 L300.67,58.60 L301.34,58.60 L302.01,58.60 L302.67,58.60 L303.34,58.60 L304.01,58.60 L304.68,58.60 L305.35,58.60 L306.02,58.60 L306.69,58.60 L307.35,58.60 L308.02,58.60 L308.69,58.60 L309.36,58.60 L310.03,58.60 L310.70,58.60 L311.37,58.60 L312.04,58.60 L312.71,58.60 L313.38,58.60 L314.05,58.60 L314.72,58.60 L315.39,58.60 L316.06,58.60 L316.73,58.60 L317.40,58.60" stroke="#ff0000" stroke-width="1.9" stroke-dasharray="1.4 1.4"/><path d="M74.50,114.40 L75.06,114.77 L75.61,115.14 L76.17,115.50 L76.72,115.87 L77.28,116.24 L77.83,116.61 L78.39,116.97 L78.94,117.34 L79.50,117.71 L80.05,118.08 L80.61,118.45 L81.16,118.81 L81.72,119.18 L82.27,119.55 L82.83,119.92 L83.38,120.29 L83.94,120.66 L84.49,121.02 L85.05,121.39 L85.60,121.76 L86.16,122.13 L86.71,122.50 L87.27,122.87 L87.82,123.23 L88.38,123.60 L88.93,123.97 L89.49,124.34 L90.04,124.71 L90.60,125.08 L91.15,125.45 L91.71,125.82 L92.26,126.18 L92.82,126.55 L93.37,126.92 L93.93,127.29 L94.48,127.66 L95.04,128.03 L95.59,128.40 L96.14,128.77 L96.70,129.14 L97.25,129.50 L97.81,129.87 L98.36,130.24 L98.92,130.61 L99.47,130.98 L100.03,131.35 L100.58,131.72 L101.13,132.09 L101.69,132.46 L102.24,132.83 L102.80,133.20 L103.35,133.57 L103.91,133.94 L104.46,134.31 L105.01,134.68 L105.57,135.04 L106.12,135.41 L106.68,135.78 L107.23,136.15 L107.79,136.52 L108.34,136.89 L108.89,137.26 L109.45,137.63 L110.00,138.00 L110.00,138.00 L110.56,138.37 L111.11,138.74 L111.67,139.11 L112.22,139.48 L112.77,139.85 L113.33,140.22 L113.88,140.59 L114.44,140.96 L114.99,141.32 L115.55,141.69 L116.10,142.06 L116.66,142.43 L117.21,142.80 L117.76,143.17 L118.32,143.54 L118.87,143.91 L119.43,144.28 L119.98,144.65 L120.53,145.02 L121.08,145.40 L121.64,145.77 L122.19,146.14 L122.74,146.51 L123.29,146.89 L123.84,147.26 L123.90,147.30 L124.39,147.64 L124.95,148.01 L125.50,148.38 L126.05,148.75 L126.60,149.13 L127.15,149.50 L127.70,149.88 L128.25,150.26 L128.80,150.64 L129.34,151.03 L129.88,151.41 L130.00,151.50 L130.42,151.80 L130.96,152.20 L131.50,152.59 L132.04,152.98 L132.57,153.38 L133.11,153.78 L133.64,154.19 L134.16,154.60 L134.68,155.02 L135.19,155.45 L135.60,155.80 L135.69,155.88 L136.17,156.34 L136.64,156.83 L137.10,157.34 L137.55,157.86 L137.99,158.38 L138.44,158.89 L138.90,159.39 L139.36,159.86 L139.84,160.30 L140.35,160.70 L140.80,161.00 L140.88,161.05 L141.44,161.36 L142.02,161.67 L142.63,161.96 L143.26,162.23 L143.90,162.47 L144.55,162.68 L145.19,162.85 L145.40,162.90 L145.83,162.99 L146.49,163.13 L147.16,163.25 L147.82,163.34 L148.48,163.39 L148.80,163.40 L149.13,163.39 L149.79,163.28 L150.44,163.10 L151.09,162.85 L151.72,162.56 L152.32,162.26 L152.80,162.00 L152.88,161.96 L153.40,161.61 L153.91,161.21 L154.39,160.75 L154.85,160.26 L155.31,159.74 L155.75,159.21 L156.20,158.68 L156.64,158.17 L156.80,158.00 L157.09,157.68 L157.54,157.19 L157.99,156.69 L158.43,156.19 L158.87,155.69 L159.30,155.19 L159.74,154.68 L160.17,154.17 L160.60,153.66 L161.02,153.14 L161.44,152.62 L161.86,152.10 L162.27,151.58 L162.68,151.06 L163.09,150.53 L163.50,150.01 L163.50,150.00 L163.89,149.47 L164.29,148.94 L164.68,148.40 L165.06,147.85 L165.44,147.31 L165.81,146.76 L166.19,146.20 L166.56,145.65 L166.93,145.10 L167.30,144.54 L167.67,143.99 L168.04,143.43 L168.41,142.88 L168.79,142.33 L169.17,141.78 L169.55,141.23 L169.93,140.69 L170.00,140.60 L170.33,140.15 L170.72,139.61 L171.12,139.08 L171.52,138.55 L171.92,138.02 L172.33,137.49 L172.73,136.96 L173.14,136.43 L173.55,135.91 L173.97,135.38 L174.38,134.86 L174.79,134.34 L175.21,133.81 L175.62,133.29 L176.04,132.77 L176.45,132.24 L176.86,131.72 L177.28,131.20 L177.69,130.67 L178.10,130.15 L178.51,129.62 L178.92,129.09 L179.32,128.56 L179.72,128.03 L180.12,127.50 L180.52,126.97 L180.91,126.43 L181.31,125.90 L181.69,125.36 L182.07,124.81 L182.45,124.27 L182.50,124.20 L182.83,123.72 L183.20,123.17 L183.57,122.62 L183.94,122.06 L184.30,121.51 L184.66,120.95 L185.02,120.39 L185.38,119.83 L185.74,119.27 L186.09,118.70 L186.44,118.14 L186.80,117.57 L187.14,117.01 L187.49,116.44 L187.84,115.87 L188.19,115.30 L188.53,114.73 L188.88,114.16 L189.22,113.59 L189.56,113.01 L189.91,112.44 L190.25,111.87 L190.59,111.30 L190.94,110.72 L191.28,110.15 L191.62,109.58 L191.97,109.01 L192.31,108.44 L192.66,107.87 L193.00,107.30 L193.35,106.73 L193.70,106.16 L194.04,105.59 L194.10,105.50 L194.39,105.02 L194.75,104.46 L195.10,103.89 L195.45,103.33 L195.81,102.76 L196.16,102.20 L196.52,101.63 L196.87,101.07 L197.23,100.51 L197.58,99.94 L197.94,99.38 L198.30,98.82 L198.65,98.25 L199.00,97.69 L199.36,97.12 L199.71,96.55 L200.06,95.99 L200.41,95.42 L200.76,94.85 L201.10,94.28 L201.44,93.71 L201.79,93.14 L202.13,92.57 L202.46,91.99 L202.80,91.42 L203.13,90.84 L203.45,90.26 L203.60,90.00 L203.78,89.68 L204.09,89.09 L204.40,88.50 L204.70,87.91 L205.00,87.31 L205.30,86.71 L205.60,86.12 L205.90,85.52 L206.21,84.93 L206.52,84.35 L206.85,83.77 L207.00,83.50 L207.18,83.19 L207.53,82.63 L207.89,82.07 L208.25,81.51 L208.62,80.96 L209.00,80.40 L209.37,79.85 L209.75,79.30 L210.13,78.75 L210.50,78.20 L210.87,77.65 L210.90,77.60 L211.23,77.08 L211.58,76.52 L211.93,75.94 L212.28,75.37 L212.62,74.79 L212.97,74.21 L213.32,73.64 L213.67,73.08 L214.04,72.52 L214.41,71.97 L214.80,71.44 L215.20,70.92 L215.30,70.80 L215.62,70.41 L216.05,69.90 L216.50,69.39 L216.96,68.89 L217.43,68.40 L217.92,67.93 L218.41,67.48 L218.93,67.06 L219.45,66.67 L219.70,66.50 L219.98,66.31 L220.54,65.96 L221.13,65.62 L221.72,65.30 L222.34,65.00 L222.96,64.73 L223.59,64.50 L224.22,64.32 L224.30,64.30 L224.85,64.18 L225.49,64.04 L226.15,63.92 L226.81,63.81 L227.47,63.70 L228.14,63.61 L228.81,63.54 L229.48,63.47 L230.14,63.42 L230.50,63.40 L230.81,63.38 L231.47,63.35 L232.13,63.32 L232.80,63.28 L233.46,63.25 L234.13,63.23 L234.80,63.20 L235.46,63.18 L236.13,63.16 L236.80,63.14 L237.46,63.13 L238.13,63.11 L238.80,63.11 L239.46,63.10 L240.00,63.10 L240.13,63.10 L240.80,63.10 L241.46,63.10 L242.13,63.10 L242.79,63.10 L243.46,63.10 L244.13,63.10 L244.79,63.10 L245.46,63.10 L246.12,63.10 L246.79,63.10 L247.46,63.10 L248.12,63.10 L248.79,63.10 L249.45,63.10 L250.12,63.10 L250.78,63.10 L251.45,63.10 L252.12,63.10 L252.78,63.10 L253.45,63.10 L254.11,63.10 L254.78,63.10 L255.45,63.10 L256.11,63.10 L256.78,63.10 L257.44,63.10 L258.11,63.10 L258.78,63.10 L259.44,63.10 L260.11,63.10 L260.77,63.10 L261.44,63.10 L262.11,63.10 L262.77,63.10 L263.44,63.10 L264.10,63.10 L264.77,63.10 L265.44,63.10 L266.10,63.10 L266.77,63.10 L267.43,63.10 L268.10,63.10 L268.77,63.10 L269.43,63.10 L270.10,63.10 L270.76,63.10 L271.43,63.10 L272.10,63.10 L272.76,63.10 L273.43,63.10 L274.10,63.10 L274.76,63.10 L275.43,63.10 L276.09,63.10 L276.76,63.10 L277.43,63.10 L278.09,63.10 L278.76,63.10 L279.42,63.10 L280.09,63.10 L280.76,63.10 L281.42,63.10 L282.09,63.10 L282.75,63.10 L283.42,63.10 L284.09,63.10 L284.75,63.10 L285.42,63.10 L286.09,63.10 L286.75,63.10 L287.42,63.10 L288.08,63.10 L288.75,63.10 L289.42,63.10 L290.08,63.10 L290.75,63.10 L291.41,63.10 L292.08,63.10 L292.75,63.10 L293.41,63.10 L294.08,63.10 L294.75,63.10 L295.41,63.10 L296.08,63.10 L296.74,63.10 L297.41,63.10 L298.08,63.10 L298.74,63.10 L299.41,63.10 L300.08,63.10 L300.74,63.10 L301.41,63.10 L302.07,63.10 L302.74,63.10 L303.41,63.10 L304.07,63.10 L304.74,63.10 L305.41,63.10 L306.07,63.10 L306.74,63.10 L307.40,63.10 L308.07,63.10 L308.74,63.10 L309.40,63.10 L310.07,63.10 L310.74,63.10 L311.40,63.10 L312.07,63.10 L312.74,63.10 L313.40,63.10 L314.07,63.10 L314.73,63.10 L315.40,63.10 L316.07,63.10 L316.73,63.10 L317.40,63.10" stroke="#00ee00" stroke-width="1.9" stroke-dasharray="3.9 1.15 0.7 1.05"/><path d="M74.50,58.50 L75.16,58.40 L75.82,58.30 L76.47,58.20 L77.13,58.10 L77.79,58.00 L78.45,57.90 L79.11,57.80 L79.77,57.71 L80.43,57.61 L81.09,57.51 L81.75,57.42 L82.40,57.33 L83.06,57.23 L83.72,57.14 L84.38,57.05 L85.04,56.96 L85.70,56.87 L86.36,56.78 L87.02,56.69 L87.68,56.60 L88.34,56.51 L89.00,56.43 L89.66,56.34 L90.32,56.26 L90.98,56.17 L91.64,56.09 L92.30,56.01 L92.96,55.93 L93.20,55.90 L93.62,55.85 L94.28,55.77 L94.95,55.69 L95.61,55.61 L96.27,55.53 L96.93,55.45 L97.59,55.37 L98.25,55.29 L98.91,55.22 L99.57,55.14 L100.24,55.06 L100.90,54.99 L101.56,54.91 L102.22,54.84 L102.88,54.77 L103.54,54.69 L104.21,54.62 L104.87,54.55 L105.53,54.48 L106.19,54.41 L106.86,54.35 L107.52,54.28 L108.18,54.22 L108.84,54.16 L109.51,54.09 L110.17,54.03 L110.83,53.97 L111.49,53.92 L111.70,53.90 L112.16,53.86 L112.82,53.80 L113.49,53.73 L114.15,53.67 L114.82,53.61 L115.48,53.55 L116.15,53.50 L116.81,53.45 L117.47,53.42 L118.14,53.40 L118.60,53.40 L118.80,53.40 L119.47,53.42 L120.14,53.47 L120.81,53.54 L121.48,53.63 L122.15,53.74 L122.81,53.86 L123.46,53.99 L124.09,54.13 L124.40,54.20 L124.71,54.28 L125.33,54.49 L125.94,54.77 L126.54,55.08 L127.13,55.43 L127.71,55.80 L128.26,56.19 L128.70,56.50 L128.79,56.57 L129.32,56.98 L129.84,57.42 L130.32,57.90 L130.75,58.40 L130.90,58.60 L131.12,58.92 L131.49,59.47 L131.84,60.04 L132.17,60.63 L132.49,61.24 L132.78,61.86 L133.05,62.49 L133.28,63.12 L133.47,63.76 L133.60,64.30 L133.62,64.39 L133.75,65.02 L133.86,65.66 L133.97,66.31 L134.07,66.96 L134.16,67.62 L134.25,68.28 L134.33,68.94 L134.40,69.61 L134.47,70.28 L134.54,70.95 L134.60,71.62 L134.67,72.29 L134.73,72.96 L134.80,73.63 L134.86,74.30 L134.90,74.70 L134.93,74.97 L134.99,75.69 L135.06,76.48 L135.12,77.31 L135.18,78.17 L135.24,79.05 L135.30,79.94 L135.36,80.81 L135.41,81.66 L135.47,82.47 L135.52,83.23 L135.58,83.92 L135.63,84.53 L135.68,85.04 L135.73,85.45 L135.78,85.73 L135.83,85.88 L135.85,85.90 L135.87,85.88 L135.92,85.73 L135.96,85.44 L136.00,85.03 L136.04,84.51 L136.08,83.90 L136.12,83.20 L136.16,82.44 L136.19,81.63 L136.23,80.78 L136.27,79.90 L136.31,79.02 L136.35,78.14 L136.39,77.27 L136.44,76.44 L136.48,75.66 L136.53,74.93 L136.55,74.70 L136.58,74.27 L136.64,73.60 L136.69,72.94 L136.75,72.27 L136.81,71.60 L136.86,70.94 L136.92,70.27 L136.99,69.61 L137.05,68.94 L137.12,68.27 L137.19,67.61 L137.26,66.95 L137.33,66.28 L137.41,65.62 L137.49,64.96 L137.58,64.30 L137.67,63.64 L137.76,62.99 L137.86,62.33 L137.96,61.68 L138.06,61.03 L138.10,60.80 L138.17,60.38 L138.30,59.74 L138.45,59.09 L138.60,58.45 L138.77,57.81 L138.96,57.17 L139.15,56.53 L139.35,55.89 L139.56,55.26 L139.78,54.63 L140.00,53.99 L140.23,53.36 L140.46,52.73 L140.69,52.10 L140.92,51.47 L141.15,50.84 L141.38,50.21 L141.60,49.58 L141.70,49.30 L141.82,48.96 L142.04,48.33 L142.26,47.70 L142.49,47.07 L142.72,46.44 L142.97,45.82 L143.23,45.21 L143.50,44.61 L143.50,44.60 L143.79,44.02 L144.10,43.43 L144.43,42.85 L144.78,42.28 L145.14,41.72 L145.49,41.15 L145.85,40.59 L146.10,40.20 L146.21,40.02 L146.56,39.45 L146.91,38.88 L147.27,38.31 L147.64,37.76 L148.03,37.23 L148.30,36.90 L148.45,36.73 L148.89,36.23 L149.35,35.75 L149.82,35.27 L150.32,34.80 L150.83,34.35 L151.35,33.92 L151.88,33.51 L152.42,33.13 L152.97,32.78 L153.10,32.70 L153.54,32.45 L154.12,32.14 L154.73,31.85 L155.35,31.58 L155.98,31.33 L156.61,31.12 L157.00,31.00 L157.24,30.93 L157.88,30.76 L158.53,30.60 L159.18,30.45 L159.84,30.31 L160.50,30.19 L161.16,30.09 L161.82,30.02 L162.00,30.00 L162.48,29.96 L163.14,29.91 L163.80,29.86 L164.46,29.81 L165.12,29.77 L165.79,29.73 L166.45,29.69 L167.12,29.65 L167.78,29.62 L168.45,29.58 L169.11,29.55 L169.78,29.53 L170.45,29.50 L171.12,29.48 L171.78,29.46 L172.45,29.44 L173.12,29.43 L173.78,29.42 L174.45,29.41 L175.00,29.40 L175.12,29.40 L175.78,29.39 L176.45,29.39 L177.11,29.38 L177.78,29.37 L178.45,29.37 L179.11,29.36 L179.78,29.36 L180.44,29.35 L181.11,29.35 L181.78,29.34 L182.44,29.34 L183.11,29.33 L183.78,29.33 L184.44,29.33 L185.11,29.32 L185.78,29.32 L186.44,29.32 L187.11,29.31 L187.77,29.31 L188.44,29.31 L189.11,29.31 L189.77,29.31 L190.44,29.30 L191.10,29.30 L191.77,29.30 L192.43,29.30 L193.09,29.30 L193.76,29.30 L194.00,29.30 L194.42,29.30 L195.09,29.32 L195.75,29.34 L196.42,29.38 L197.09,29.42 L197.76,29.48 L198.43,29.54 L199.09,29.61 L199.76,29.69 L200.42,29.77 L201.09,29.86 L201.75,29.96 L202.41,30.06 L203.06,30.17 L203.71,30.28 L204.36,30.39 L205.00,30.50 L205.01,30.50 L205.65,30.64 L206.29,30.80 L206.93,31.00 L207.56,31.22 L208.19,31.46 L208.82,31.71 L209.44,31.97 L210.05,32.23 L210.20,32.30 L210.65,32.50 L211.26,32.79 L211.86,33.10 L212.43,33.44 L212.99,33.79 L213.00,33.80 L213.53,34.17 L214.07,34.57 L214.60,34.99 L215.12,35.43 L215.63,35.88 L216.12,36.36 L216.58,36.84 L217.02,37.34 L217.42,37.85 L217.60,38.10 L217.79,38.37 L218.12,38.93 L218.44,39.50 L218.74,40.10 L219.02,40.72 L219.29,41.34 L219.56,41.96 L219.82,42.59 L220.00,43.00 L220.09,43.20 L220.35,43.81 L220.61,44.42 L220.87,45.04 L221.12,45.66 L221.37,46.28 L221.61,46.90 L221.84,47.52 L222.06,48.15 L222.27,48.78 L222.40,49.20 L222.46,49.41 L222.66,50.05 L222.84,50.69 L223.03,51.33 L223.21,51.97 L223.39,52.61 L223.56,53.26 L223.73,53.90 L223.89,54.55 L224.05,55.20 L224.20,55.85 L224.35,56.50 L224.49,57.16 L224.62,57.81 L224.74,58.46 L224.86,59.12 L224.96,59.77 L225.00,60.00 L225.06,60.43 L225.16,61.08 L225.25,61.74 L225.34,62.40 L225.42,63.06 L225.50,63.72 L225.58,64.38 L225.65,65.04 L225.72,65.70 L225.79,66.36 L225.86,67.03 L225.93,67.69 L225.99,68.36 L226.06,69.02 L226.12,69.69 L226.18,70.35 L226.24,71.01 L226.30,71.68 L226.35,72.34 L226.41,73.01 L226.47,73.67 L226.50,74.00 L226.53,74.34 L226.59,75.07 L226.65,75.86 L226.70,76.69 L226.76,77.55 L226.82,78.42 L226.87,79.31 L226.93,80.19 L226.98,81.05 L227.03,81.88 L227.08,82.67 L227.13,83.40 L227.18,84.07 L227.22,84.66 L227.27,85.15 L227.31,85.55 L227.35,85.83 L227.38,85.98 L227.40,86.00 L227.41,85.99 L227.44,85.91 L227.47,85.75 L227.50,85.51 L227.53,85.20 L227.55,84.81 L227.57,84.36 L227.59,83.86 L227.61,83.29 L227.63,82.68 L227.65,82.02 L227.67,81.31 L227.69,80.57 L227.70,79.80 L227.72,78.99 L227.74,78.16 L227.75,77.31 L227.77,76.44 L227.79,75.57 L227.81,74.68 L227.83,73.80 L227.85,72.91 L227.87,72.03 L227.90,71.16 L227.92,70.31 L227.95,69.48 L227.98,68.67 L228.01,67.89 L228.04,67.14 L228.08,66.43 L228.10,66.00 L228.11,65.76 L228.16,65.09 L228.20,64.42 L228.25,63.75 L228.31,63.08 L228.37,62.42 L228.44,61.75 L228.52,61.09 L228.60,60.43 L228.70,59.77 L228.80,59.12 L228.90,58.50 L228.90,58.48 L229.04,57.82 L229.21,57.14 L229.42,56.46 L229.66,55.80 L229.93,55.17 L230.22,54.59 L230.54,54.09 L230.60,54.00 L230.90,53.64 L231.36,53.21 L231.89,52.81 L232.48,52.42 L233.11,52.07 L233.75,51.76 L234.40,51.48 L235.03,51.25 L235.20,51.20 L235.64,51.07 L236.26,50.89 L236.90,50.72 L237.55,50.57 L238.20,50.43 L238.86,50.29 L239.53,50.17 L240.19,50.06 L240.86,49.96 L241.53,49.87 L242.20,49.78 L242.86,49.71 L243.00,49.70 L243.52,49.65 L244.18,49.59 L244.84,49.53 L245.51,49.47 L246.17,49.41 L246.83,49.36 L247.50,49.31 L248.16,49.26 L248.83,49.21 L249.49,49.17 L250.16,49.13 L250.82,49.09 L251.49,49.05 L252.16,49.02 L252.82,48.99 L253.49,48.97 L254.16,48.94 L254.82,48.92 L255.49,48.91 L256.00,48.90 L256.15,48.90 L256.82,48.89 L257.48,48.88 L258.15,48.87 L258.81,48.86 L259.48,48.85 L260.14,48.84 L260.81,48.83 L261.47,48.82 L262.14,48.81 L262.81,48.81 L263.47,48.80 L264.14,48.79 L264.80,48.78 L265.47,48.78 L266.13,48.77 L266.80,48.76 L267.47,48.76 L268.13,48.75 L268.80,48.75 L269.46,48.74 L270.13,48.74 L270.80,48.73 L271.46,48.73 L272.13,48.72 L272.79,48.72 L273.46,48.72 L274.13,48.71 L274.79,48.71 L275.46,48.71 L276.12,48.71 L276.79,48.70 L277.45,48.70 L278.12,48.70 L278.79,48.70 L279.45,48.70 L280.00,48.70 L280.12,48.70 L280.78,48.70 L281.45,48.70 L282.12,48.70 L282.78,48.70 L283.45,48.70 L284.11,48.70 L284.78,48.70 L285.44,48.70 L286.11,48.70 L286.78,48.70 L287.44,48.70 L288.11,48.70 L288.77,48.70 L289.44,48.70 L290.10,48.70 L290.77,48.70 L291.44,48.70 L292.10,48.70 L292.77,48.70 L293.43,48.70 L294.10,48.70 L294.76,48.70 L295.43,48.70 L296.10,48.70 L296.76,48.70 L297.43,48.70 L298.09,48.70 L298.76,48.70 L299.42,48.70 L300.09,48.70 L300.76,48.70 L301.42,48.70 L302.09,48.70 L302.75,48.70 L303.42,48.70 L304.08,48.70 L304.75,48.70 L305.42,48.70 L306.08,48.70 L306.75,48.70 L307.41,48.70 L308.08,48.70 L308.75,48.70 L309.41,48.70 L310.08,48.70 L310.74,48.70 L311.41,48.70 L312.07,48.70 L312.74,48.70 L313.41,48.70 L314.07,48.70 L314.74,48.70 L315.40,48.70 L316.07,48.70 L316.73,48.70 L317.40,48.70" stroke="#000" stroke-width="1.35"/></g><rect x="74.5" y="13.15" width="242.89999999999998" height="202.0" fill="none" stroke="#000" stroke-width="0.62"/><rect x="258.5" y="145.1" width="58.89999999999998" height="70.05000000000001" fill="#fff" stroke="#000" stroke-width="0.6"/><g fill="none"><path d="M263.0,153.8H284.3" stroke="#00b4f0" stroke-width="1.75"/><path d="M263.0,166.8H284.3" stroke="#0000ff" stroke-width="1.9" stroke-dasharray="4.0 2.33"/><path d="M263.0,179.8H284.3" stroke="#ff0000" stroke-width="1.9" stroke-dasharray="1.4 1.4"/><path d="M263.0,192.7H284.3" stroke="#00ee00" stroke-width="1.9" stroke-dasharray="3.9 1.15 0.7 1.05"/><path d="M263.0,205.8H284.3" stroke="#000" stroke-width="1.35"/></g><g fill="#000" stroke="#fff" stroke-width="0.16"><text x="290.9" y="156.4" font-family="Liberation Serif, serif" font-style="italic" font-size="10.8" stroke="none">k</text><text x="295.5" y="157.70000000000002" font-family="Liberation Serif, serif" font-size="6.6" textLength="11.2" lengthAdjust="spacingAndGlyphs" stroke="none">0.1</text><text x="294.6" y="169.4" font-family="Liberation Serif, serif" font-style="italic" font-size="10.8" stroke="none">k</text><text x="299.3" y="170.9" font-family="Liberation Serif, serif" font-size="6.8" stroke="none">1</text><text x="287.7" y="182.3" font-family="Liberation Serif, serif" font-style="italic" font-size="10.8" stroke="none">k</text><text x="292.6" y="183.5" font-family="Liberation Serif, serif" font-size="6.6" textLength="17.6" lengthAdjust="spacingAndGlyphs" stroke="none">peak</text><text x="292.4" y="195.0" font-family="Liberation Serif, serif" font-style="italic" font-size="10.8" stroke="none">k</text><text x="297.3" y="196.2" font-family="Liberation Serif, serif" font-size="6.6" textLength="8.4" lengthAdjust="spacingAndGlyphs" stroke="none">10</text><path d="M294.7,201.9V210.7M303.6,201.9V210.7" stroke="#000" stroke-width="0.55" fill="none"/><text x="299.3" y="208.5" font-family="Liberation Serif, serif" font-size="11" font-style="italic" text-anchor="middle">η</text><path d="M68.10,224.2h6.4" stroke="#000" stroke-width="0.65" fill="none"/><text x="78.80" y="227.6" font-family="Liberation Serif, serif" font-size="11.8" text-anchor="middle">4</text><path d="M88.34,224.2h6.4" stroke="#000" stroke-width="0.65" fill="none"/><text x="99.04" y="227.6" font-family="Liberation Serif, serif" font-size="11.8" text-anchor="middle">3</text><path d="M108.58,224.2h6.4" stroke="#000" stroke-width="0.65" fill="none"/><text x="119.28" y="227.6" font-family="Liberation Serif, serif" font-size="11.8" text-anchor="middle">2</text><path d="M128.82,224.2h6.4" stroke="#000" stroke-width="0.65" fill="none"/><text x="139.53" y="227.6" font-family="Liberation Serif, serif" font-size="11.8" text-anchor="middle">1</text><text x="155.47" y="227.6" font-family="Liberation Serif, serif" font-size="11.8" text-anchor="middle">0</text><text x="175.71" y="227.6" font-family="Liberation Serif, serif" font-size="11.8" text-anchor="middle">1</text><text x="195.95" y="227.6" font-family="Liberation Serif, serif" font-size="11.8" text-anchor="middle">2</text><text x="216.19" y="227.6" font-family="Liberation Serif, serif" font-size="11.8" text-anchor="middle">3</text><text x="236.43" y="227.6" font-family="Liberation Serif, serif" font-size="11.8" text-anchor="middle">4</text><text x="256.67" y="227.6" font-family="Liberation Serif, serif" font-size="11.8" text-anchor="middle">5</text><text x="276.92" y="227.6" font-family="Liberation Serif, serif" font-size="11.8" text-anchor="middle">6</text><text x="297.16" y="227.6" font-family="Liberation Serif, serif" font-size="11.8" text-anchor="middle">7</text><text x="317.40" y="227.6" font-family="Liberation Serif, serif" font-size="11.8" text-anchor="middle">8</text><text x="53.5" y="24.50" font-family="Liberation Serif, serif" font-size="11.8" textLength="11.8" lengthAdjust="spacingAndGlyphs">10</text><text x="65.3" y="20.10" font-family="Liberation Serif, serif" font-size="8.0">1</text><text x="53.5" y="47.25" font-family="Liberation Serif, serif" font-size="11.8" textLength="11.8" lengthAdjust="spacingAndGlyphs">10</text><text x="65.3" y="42.85" font-family="Liberation Serif, serif" font-size="8.0">0</text><text x="46.1" y="70.00" font-family="Liberation Serif, serif" font-size="11.8" textLength="11.8" lengthAdjust="spacingAndGlyphs">10</text><text x="58.0" y="65.60" font-family="Liberation Serif, serif" font-size="8.0" textLength="11.3" lengthAdjust="spacingAndGlyphs">−1</text><text x="46.1" y="92.75" font-family="Liberation Serif, serif" font-size="11.8" textLength="11.8" lengthAdjust="spacingAndGlyphs">10</text><text x="58.0" y="88.35" font-family="Liberation Serif, serif" font-size="8.0" textLength="11.3" lengthAdjust="spacingAndGlyphs">−2</text><text x="46.1" y="115.50" font-family="Liberation Serif, serif" font-size="11.8" textLength="11.8" lengthAdjust="spacingAndGlyphs">10</text><text x="58.0" y="111.10" font-family="Liberation Serif, serif" font-size="8.0" textLength="11.3" lengthAdjust="spacingAndGlyphs">−3</text><text x="46.1" y="138.25" font-family="Liberation Serif, serif" font-size="11.8" textLength="11.8" lengthAdjust="spacingAndGlyphs">10</text><text x="58.0" y="133.85" font-family="Liberation Serif, serif" font-size="8.0" textLength="11.3" lengthAdjust="spacingAndGlyphs">−4</text><text x="46.1" y="161.00" font-family="Liberation Serif, serif" font-size="11.8" textLength="11.8" lengthAdjust="spacingAndGlyphs">10</text><text x="58.0" y="156.60" font-family="Liberation Serif, serif" font-size="8.0" textLength="11.3" lengthAdjust="spacingAndGlyphs">−5</text><text x="46.1" y="183.75" font-family="Liberation Serif, serif" font-size="11.8" textLength="11.8" lengthAdjust="spacingAndGlyphs">10</text><text x="58.0" y="179.35" font-family="Liberation Serif, serif" font-size="8.0" textLength="11.3" lengthAdjust="spacingAndGlyphs">−6</text><text x="46.1" y="206.50" font-family="Liberation Serif, serif" font-size="11.8" textLength="11.8" lengthAdjust="spacingAndGlyphs">10</text><text x="58.0" y="202.10" font-family="Liberation Serif, serif" font-size="8.0" textLength="11.3" lengthAdjust="spacingAndGlyphs">−7</text><text x="191.3" y="244" font-family="Liberation Serif, serif" font-style="italic" font-size="11.5" textLength="9.2" lengthAdjust="spacingAndGlyphs">N</text><g transform="translate(35.1,135.3) rotate(-90)"><path transform="translate(-0.4,0) scale(1.05)" d="M2.6,0.1 C3.0,-2 3.6,-5.5 3.9,-7.6 M0.2,-5.8 C0.8,-7.4 2.2,-8.0 4.2,-8.0 C6.6,-8.0 8.2,-7.0 7.8,-5.2 C7.4,-3.4 5.6,-2.6 3.4,-2.9" fill="none" stroke="#000" stroke-width="0.95" stroke-linecap="round"/><text x="9.0" y="-6.3" font-family="Liberation Serif, serif" font-size="8.6" textLength="14.2" lengthAdjust="spacingAndGlyphs">1/2</text><g transform="translate(9.1,3.3) scale(1.06)"><path d="M1.8,0 C2.1,-1.5 2.5,-3.8 2.7,-5.3 M0.1,-4.0 C0.5,-5.2 1.5,-5.6 2.9,-5.6 C4.6,-5.6 5.6,-4.9 5.3,-3.7 C5.0,-2.6 3.9,-2.2 2.4,-2.3 M3.0,-2.3 C3.8,-1.5 4.0,0.1 5.0,0.1 C5.5,0.1 5.8,-0.2 6.0,-0.7" fill="none" stroke="#000" stroke-width="0.72" stroke-linecap="round"/></g><text x="24.4" y="0" font-family="Liberation Serif, serif" font-size="11.5">(</text><text x="28.1" y="0" font-family="Liberation Serif, serif" font-style="italic" font-size="11.5" textLength="9.4" lengthAdjust="spacingAndGlyphs">N</text><text x="38.5" y="0" font-family="Liberation Serif, serif" font-size="11.5">)</text></g></g></g></svg></body></html>
